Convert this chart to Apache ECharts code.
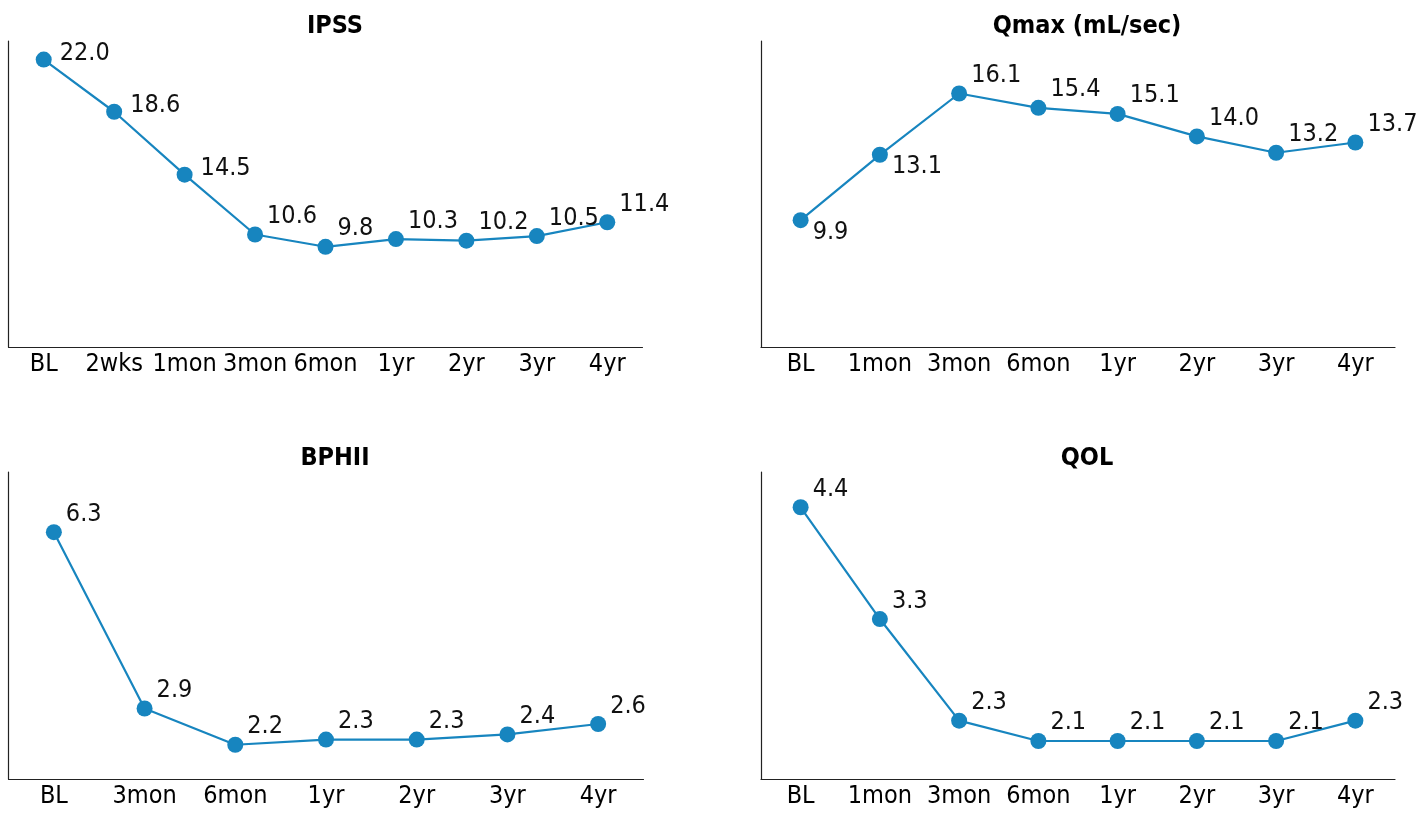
<!DOCTYPE html>
<html>
<head>
<meta charset="utf-8">
<title>IPSS / Qmax / BPHII / QOL</title>
<script src="https://cdn.jsdelivr.net/npm/echarts@6/dist/echarts.min.js"></script>
<style>
  html, body { margin: 0; padding: 0; background: #fff; }
  #outcome-chart { width: 1419px; height: 813px; }
</style>
</head>
<body>
<div id="outcome-chart"></div>
<script>
const ipssCategories = ['BL', '2wks', '1mon', '3mon', '6mon', '1yr', '2yr', '3yr', '4yr'];
const ipssValues = [22.0, 18.6, 14.5, 10.6, 9.8, 10.3, 10.2, 10.5, 11.4];

const qmaxCategories = ['BL', '1mon', '3mon', '6mon', '1yr', '2yr', '3yr', '4yr'];
const qmaxValues = [9.9, 13.1, 16.1, 15.4, 15.1, 14.0, 13.2, 13.7];

const bphiiCategories = ['BL', '3mon', '6mon', '1yr', '2yr', '3yr', '4yr'];
const bphiiValues = [6.3, 2.9, 2.2, 2.3, 2.3, 2.4, 2.6];

const qolCategories = ['BL', '1mon', '3mon', '6mon', '1yr', '2yr', '3yr', '4yr'];
const qolValues = [4.4, 3.3, 2.3, 2.1, 2.1, 2.1, 2.1, 2.3];

const FONT = "'Liberation Sans Narrow', 'DejaVu Sans Condensed', 'Noto Sans', sans-serif";
const LINE_COLOR = '#1785bf';

// one panel = grid + axes + series; labels go up-right unless told otherwise
const panels = [
  { title: 'IPSS', cats: ipssCategories, vals: ipssValues,
    grid: { left: 8.5, top: 41, width: 634, height: 306 }, titleX: 335, titleY: 14,
    yMin: 3.27, yMax: 23.21, flat: [0, 1, 2], below: [] },
  { title: 'Qmax (mL/sec)', cats: qmaxCategories, vals: qmaxValues,
    grid: { left: 761, top: 41, width: 634, height: 306 }, titleX: 1087, titleY: 14,
    yMin: 3.69, yMax: 18.67, flat: [], below: [0, 1] },
  { title: 'BPHII', cats: bphiiCategories, vals: bphiiValues,
    grid: { left: 8.5, top: 472, width: 635, height: 307 }, titleX: 335, titleY: 446,
    yMin: 1.54, yMax: 7.46, flat: [], below: [] },
  { title: 'QOL', cats: qolCategories, vals: qolValues,
    grid: { left: 761, top: 472, width: 634, height: 307 }, titleX: 1087, titleY: 446,
    yMin: 1.726, yMax: 4.747, flat: [], below: [] },
];

function labelFor(panel, idx) {
  let offset = [0, -18];
  if (panel.flat.includes(idx)) offset = [4, -6];
  if (panel.below.includes(idx)) offset = [0, 12];
  return { offset: offset };
}

function buildOption() {
  let option = {
    animation: false,
    backgroundColor: '#fff',
    textStyle: { fontFamily: FONT },
    title: [],
    grid: [],
    xAxis: [],
    yAxis: [],
    series: [],
  };

  panels.forEach((p, i) => {
    option.title.push({
      text: p.title,
      left: p.titleX,
      top: p.titleY,
      textAlign: 'center',
      padding: 0,
      textStyle: { fontFamily: FONT, fontSize: 25, fontWeight: 'bold', color: '#000' },
    });
    option.grid.push(Object.assign({ containLabel: false }, p.grid));
    option.xAxis.push({
      type: 'category',
      gridIndex: i,
      data: p.cats,
      boundaryGap: true,
      axisLine: { lineStyle: { color: '#222', width: 1.2 } },
      axisTick: { show: false },
      axisLabel: { margin: 5, fontSize: 25, color: '#000', fontFamily: FONT, interval: 0 },
      splitLine: { show: false },
    });
    option.yAxis.push({
      type: 'value',
      gridIndex: i,
      min: p.yMin,
      max: p.yMax,
      axisLine: { show: true, lineStyle: { color: '#222', width: 1.2 } },
      axisTick: { show: false },
      axisLabel: { show: false },
      splitLine: { show: false },
    });
    option.series.push({
      type: 'line',
      xAxisIndex: i,
      yAxisIndex: i,
      data: p.vals.map((v, k) => ({ value: v, label: labelFor(p, k) })),
      symbol: 'circle',
      symbolSize: 16,
      lineStyle: { color: LINE_COLOR, width: 2.2 },
      itemStyle: { color: LINE_COLOR },
      label: {
        show: true,
        position: 'right',
        distance: 4,
        fontSize: 25,
        fontFamily: FONT,
        color: '#111',
        formatter: (d) => d.value.toFixed(1),
      },
    });
  });
  return option;
}

let chartDom = document.getElementById('outcome-chart');
let myChart = echarts.init(chartDom);
myChart.setOption(buildOption());
</script>
</body>
</html>
